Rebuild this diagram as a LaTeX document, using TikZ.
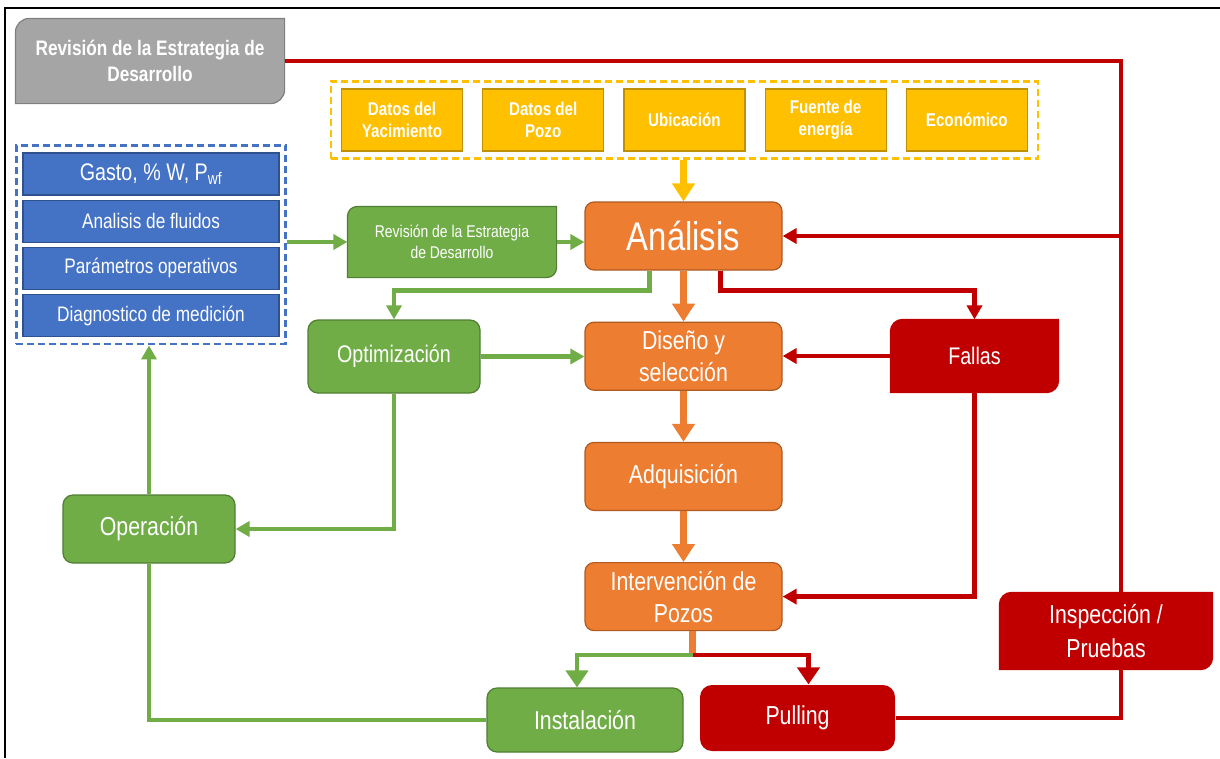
\documentclass[tikz,border=0pt]{standalone}
\usepackage{fontspec}
\setmainfont{Liberation Sans}[FakeStretch=0.82]
\usetikzlibrary{arrows.meta,positioning,fit,backgrounds}

\definecolor{orfill}{HTML}{ED7D31}
\definecolor{ordraw}{HTML}{AE5A21}
\definecolor{grfill}{HTML}{70AD47}
\definecolor{grdraw}{HTML}{507E32}
\definecolor{redfill}{HTML}{C00000}
\definecolor{blfill}{HTML}{4472C4}
\definecolor{bldraw}{HTML}{2F528F}
\definecolor{yfill}{HTML}{FFC000}
\definecolor{ydraw}{HTML}{BF9000}
\definecolor{gyfill}{HTML}{A5A5A5}
\definecolor{gydraw}{HTML}{7F7F7F}

\begin{document}
\begin{tikzpicture}[x=1pt,y=1pt,>={Triangle[width=15pt,length=14pt]},
  box/.style={rectangle,text=white,align=center,inner sep=0pt,line width=1.2pt},
  orangebox/.style={box,fill=orfill,draw=ordraw,rounded corners=9pt,
    minimum width=197pt,minimum height=68pt,font=\fontsize{26}{32}\selectfont},
  greenbox/.style={box,fill=grfill,draw=grdraw,rounded corners=10pt,
    minimum width=172pt,minimum height=68pt,font=\fontsize{26}{30}\selectfont},
  bluebox/.style={box,fill=blfill,draw=bldraw,minimum width=256pt,
    minimum height=42pt,font=\fontsize{21}{24}\selectfont},
  yellowbox/.style={box,fill=yfill,draw=ydraw,minimum width=121pt,
    minimum height=62pt,font=\bfseries\fontsize{18.5}{22}\selectfont},
  diagbox/.style={box,font=\fontsize{26}{34}\selectfont},
  redbox/.style={box,fill=redfill,rounded corners=12pt,minimum width=195pt,
    minimum height=66pt,font=\fontsize{26}{32}\selectfont},
  dashbox/.style={draw,line width=2.5pt,dash pattern=on 7pt off 4pt},
  greenline/.style={draw=grfill,line width=4.5pt},
  redline/.style={draw=redfill,line width=4.5pt},
  bigtip/.style={>={Triangle[width=22pt,length=17pt]},->},
  orangearrow/.style={>={Triangle[width=22pt,length=18pt]},->,draw=orfill,line width=7pt},
  yellowarrow/.style={>={Triangle[width=22pt,length=18pt]},->,draw=yfill,line width=7pt}]

  \useasboundingbox (0,0) rectangle (1220,-758);
  \draw[line width=2.5pt] (5,-758) -- (5,-8) -- (1220,-8);

  % strategy review and input data
  \node[diagbox,minimum width=268pt,minimum height=84pt,
    font=\bfseries\fontsize{21}{26}\selectfont] (estr) at (150,-61)
    {Revisión de la Estrategia de\\Desarrollo};

  \node[yellowbox] (yac) at (402,-120) {Datos del\\Yacimiento};
  \node[yellowbox,right=19pt of yac] (pozo) {Datos del\\Pozo};
  \node[yellowbox,right=19pt of pozo] (ubi) {Ubicación};
  \node[yellowbox,right=19pt of ubi] (fuente) {Fuente de\\energía};
  \node[yellowbox,right=19pt of fuente] (eco) {Económico};
  \node[dashbox,draw=yfill,fit=(yac)(eco),inner xsep=10pt,inner ysep=7pt] (datos) {};

  \node[bluebox,font=\fontsize{24}{28}\selectfont] (gasto) at (151,-174)
    {Gasto, \% W, P\textsubscript{wf}};
  \node[bluebox,below=4pt of gasto] (fluidos) {Analisis de fluidos};
  \node[bluebox,below=4pt of fluidos] (param) {Parámetros operativos};
  \node[bluebox,below=4pt of param] (diagn) {Diagnostico de medición};
  \node[dashbox,draw=blfill,fit=(gasto)(diagn),inner xsep=6pt,inner ysep=7pt] (medicion) {};

  % main column
  \node[orangebox,font=\fontsize{40}{44}\selectfont] (ana) at (683.5,-236) {Análisis};
  \node[orangebox,below=51pt of ana] (dis) {Diseño y\\selección};
  \node[orangebox,below=51pt of dis] (adq) {Adquisición};
  \node[orangebox,below=51pt of adq] (int) {Intervención de\\Pozos};

  \node[diagbox,minimum width=208pt,minimum height=70pt,
    font=\fontsize{17}{21}\selectfont] (rev) at (452,-242)
    {Revisión de la Estrategia\\de Desarrollo};
  \node[greenbox,minimum height=73pt,font=\fontsize{24}{28}\selectfont] (opt) at (394,-356.5) {Optimización};
  \node[greenbox] (ope) at (149,-529) {Operación};
  \node[greenbox,minimum width=196pt,minimum height=64pt] (ins) at (585,-720) {Instalación};

  \node[diagbox,minimum width=167pt,minimum height=72pt,
    font=\fontsize{24}{28}\selectfont] (fal) at (974.5,-356) {Fallas};
  \node[diagbox,minimum width=212pt,minimum height=76pt] (insp) at (1106,-631)
    {Inspección /\\Pruebas};
  \node[redbox] (pul) at (797.5,-718) {Pulling};

  \begin{scope}[on background layer]
    \foreach \n/\f/\d/\r in {estr/gyfill/gydraw/14,rev/grfill/grdraw/10,
                             fal/redfill/redfill/12,insp/redfill/redfill/12}
      \draw[draw=\d,fill=\f,line width=1.2pt]
        ([yshift=-\r pt]\n.north west) arc[start angle=180,end angle=90,radius=\r pt]
        -- (\n.north east) -- ([yshift=\r pt]\n.south east)
        arc[start angle=0,end angle=-90,radius=\r pt] -- (\n.south west) -- cycle;
  \end{scope}

  \coordinate (rv) at ([xshift=15pt]insp.north);

  % connectors
  \draw[redline] (estr.east) -| (rv);
  \draw[redline,->] (rv) |- (ana.east);
  \draw[redline] (pul.east) -| (insp.south -| rv);
  \draw[yellowarrow] (datos.south -| ana.north) -- (ana.north);

  \draw[greenline,->] (medicion.east |- rev.west) -- (rev.west);
  \draw[greenline,->] (rev.east) -- (rev.east -| ana.west);
  \draw[greenline,->] ([xshift=-34pt]ana.south) -- ++(0,-20) -| (opt.north);
  \draw[greenline,->] (opt.east) -- (opt.east -| dis.west);
  \draw[greenline,->] (opt.south) |- (ope.east);
  \draw[greenline,->] (ope.north) -- (ope.north |- medicion.south);
  \draw[greenline] (ins.west) -| (ope.south);

  \draw[redline,->] ([xshift=37pt]ana.south) -- ++(0,-20) -| (fal.north);
  \draw[redline,->] (fal.west) -- (fal.west -| dis.east);
  \draw[redline,->] (fal.south) |- (int.east);

  \draw[orangearrow] (ana) -- (dis);
  \draw[orangearrow] (dis) -- (adq);
  \draw[orangearrow] (adq) -- (int);

  \draw[draw=orfill,line width=7pt] ([xshift=9pt]int.south) -- ++(0,-26) coordinate (split);
  \draw[greenline,bigtip] ([yshift=2pt]split) -| ([xshift=-8pt]ins.north);
  \draw[redline,bigtip] ([yshift=2pt]split) -| ([xshift=11pt]pul.north);
\end{tikzpicture}
\end{document}
